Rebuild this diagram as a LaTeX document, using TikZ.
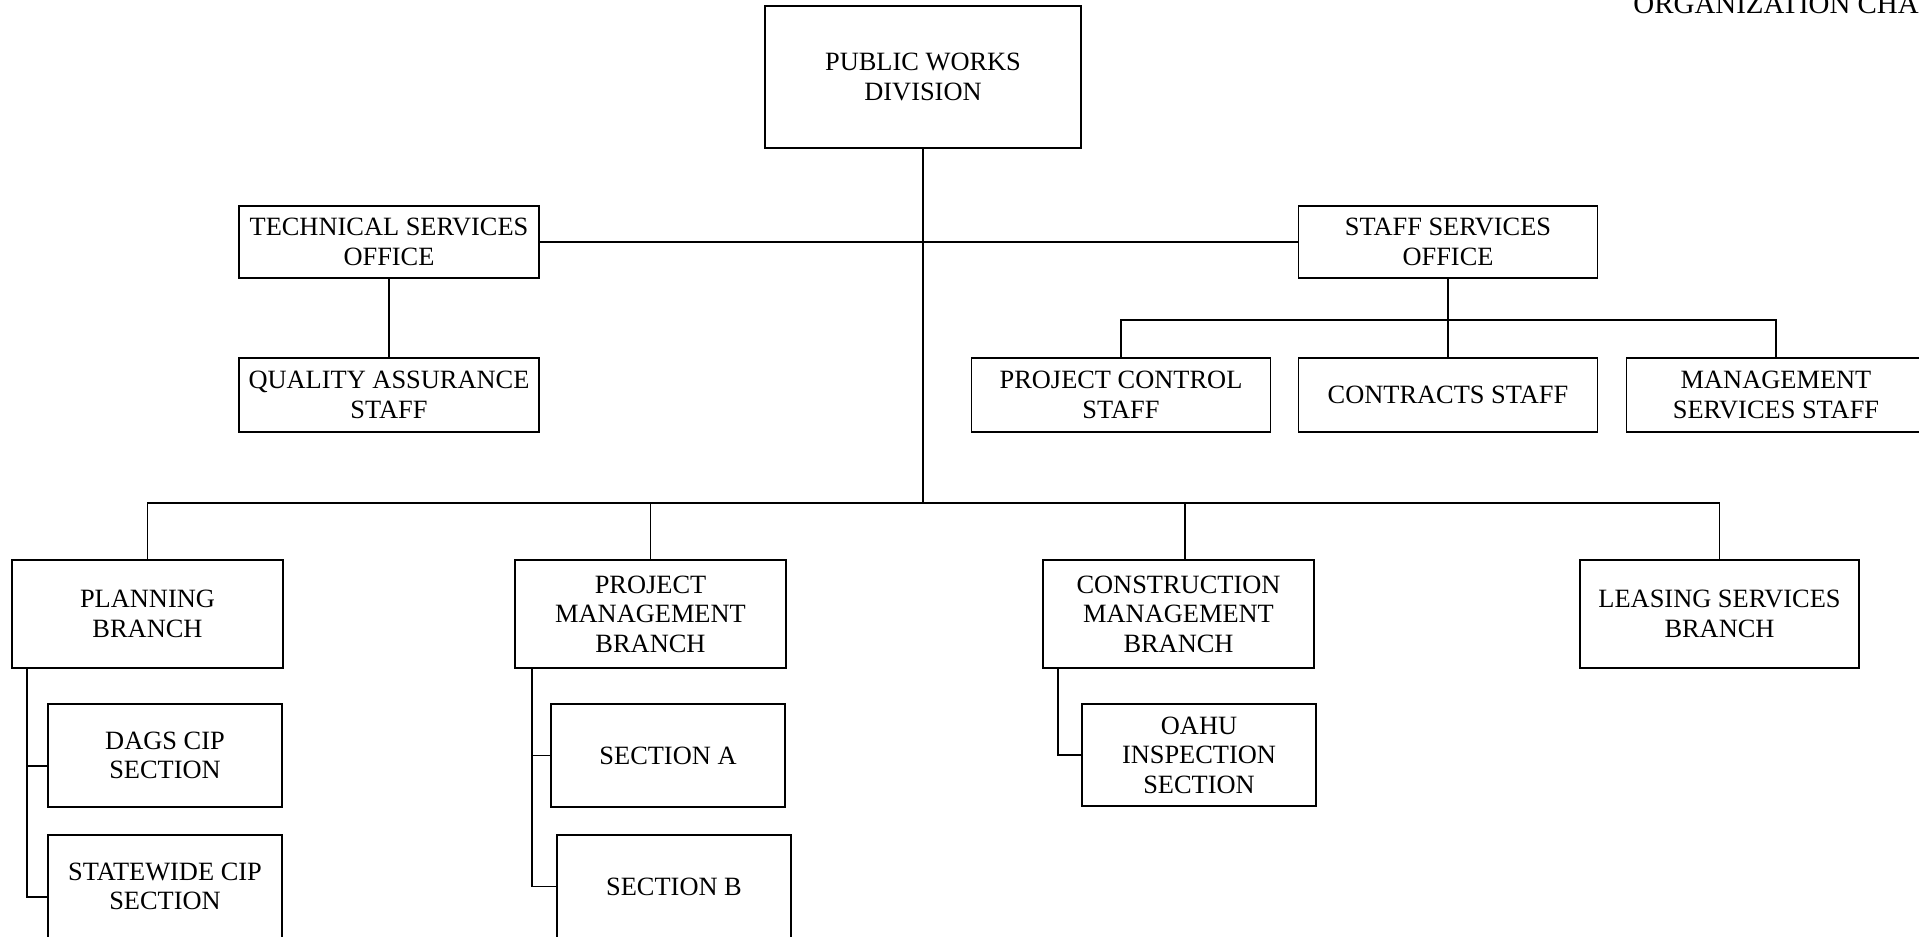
\documentclass[tikz,border=0pt]{standalone}
\usepackage{fontspec}
\setmainfont{Liberation Serif}
\usetikzlibrary{positioning,calc}

\begin{document}
\begin{tikzpicture}[x=0.75pt, y=-0.75pt,
  orgbox/.style 2 args={draw, line width=1.3pt, align=center, inner sep=0pt, outer sep=0pt,
    minimum width=#1*0.75pt, minimum height=#2*0.75pt, font=\fontsize{19.8}{22.2}\selectfont},
  link/.style={line width=1.3pt}]
  % Page frame
  \path[use as bounding box] (0,0) rectangle (1919,936);
  \clip (0,0) rectangle (1919,936);
  % Title
  \node[anchor=base east, inner sep=0pt, font=\fontsize{21.7}{24}\selectfont] (title) at (1919,13) {ORGANIZATION CHA};
  % Division and offices
  \node[orgbox={316}{142}] (pwd) at (923,77) {PUBLIC WORKS\\DIVISION};
  \node[orgbox={300}{72}] (tso) at (389,242) {TECHNICAL SERVICES\\OFFICE};
  \node[orgbox={300}{74}] (qas) at (389,395) {QUALITY ASSURANCE\\STAFF};
  \node[orgbox={299}{72}] (sso) at (1448,242) {STAFF SERVICES\\OFFICE};
  \node[orgbox={299}{74}] (pcs) at (1121,395) {PROJECT CONTROL\\STAFF};
  \node[orgbox={299}{74}] (cst) at (1448,395) {CONTRACTS STAFF};
  \node[orgbox={299}{74}] (mss) at (1776,395) {MANAGEMENT\\SERVICES STAFF};
  % Branches
  \node[orgbox={271}{108}] (plb) at (147.5,614) {PLANNING\\BRANCH};
  \node[orgbox={271}{108}] (pmb) at (650.5,614) {PROJECT\\MANAGEMENT\\BRANCH};
  \node[orgbox={271}{108}] (cmb) at (1178.5,614) {CONSTRUCTION\\MANAGEMENT\\BRANCH};
  \node[orgbox={279}{108}] (lsb) at (1719.5,614) {LEASING SERVICES\\BRANCH};
  % Sections
  \node[orgbox={234}{103}] (dcs) at (165,755.5) {DAGS CIP\\SECTION};
  \node[orgbox={234}{103}] (scs) at (165,886.5) {STATEWIDE CIP\\SECTION};
  \node[orgbox={234}{103}] (sca) at (668,755.5) {SECTION A};
  \node[orgbox={234}{103}] (scb) at (674,886.5) {SECTION B};
  \node[orgbox={234}{102}] (ois) at (1199,755) {OAHU\\INSPECTION\\SECTION};
  % Trunk and offices
  \coordinate (trunk) at (923,503);
  \draw[link] (pwd.south) -- (trunk);
  \draw[link] (tso.east) -- (sso.west);
  \draw[link] (tso.south) -- (qas.north);
  % Staff services
  \coordinate (staffbus) at (1448,320);
  \draw[link] (sso.south) -- (cst.north);
  \draw[link] (pcs.north) |- (staffbus) -| (mss.north);
  % Branch bus
  \coordinate (cmtop) at ([xshift=4.9pt]cmb.north);
  \draw[link] (plb.north) |- (trunk) -| (lsb.north);
  \draw[link] (pmb.north) -- (pmb.north |- trunk);
  \draw[link] (cmtop) -- (cmtop |- trunk);
  % Section spines
  \draw[link] ([xshift=11.25pt]plb.south west) |- ([yshift=-7.9pt]dcs.west);
  \draw[link] ([xshift=11.25pt]plb.south west) |- ([yshift=-7.9pt]scs.west);
  \draw[link] ([xshift=12.75pt]pmb.south west) |- (sca.west);
  \draw[link] ([xshift=12.75pt]pmb.south west) |- (scb.west);
  \draw[link] ([xshift=11.25pt]cmb.south west) |- (ois.west);
\end{tikzpicture}
\end{document}
